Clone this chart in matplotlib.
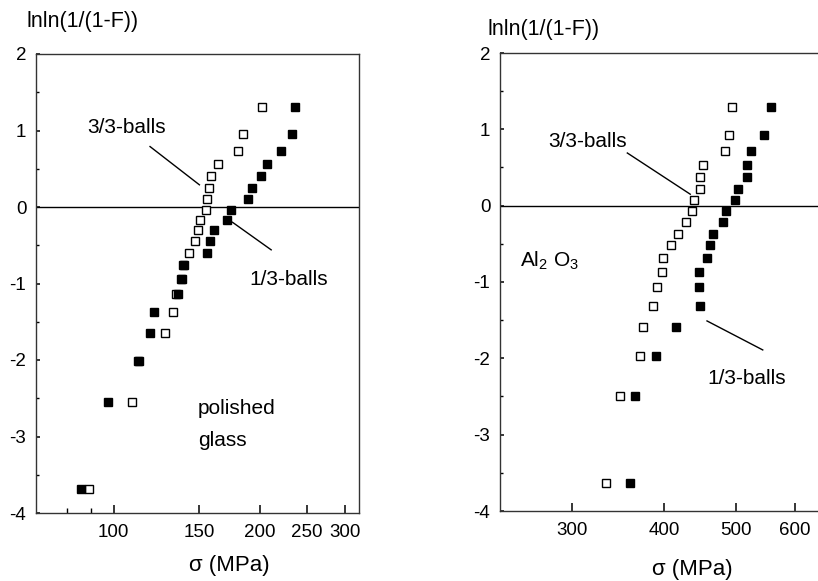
"""Weibull plots of fracture stress for polished glass and Al2O3 balls."""

import matplotlib

matplotlib.use("Agg")

import matplotlib.pyplot as plt
from matplotlib.ticker import FixedFormatter, FixedLocator, NullFormatter

plt.rcParams["font.family"] = ["Liberation Sans", "DejaVu Sans"]
plt.rcParams["mathtext.fontset"] = "custom"
plt.rcParams["mathtext.rm"] = "Liberation Sans"
plt.rcParams["mathtext.it"] = "Liberation Sans"
plt.rcParams["mathtext.default"] = "regular"
plt.rcParams["axes.unicode_minus"] = False

# polished glass (20 specimens each)
glass_rank = [-3.68, -2.55, -2.01, -1.65, -1.37, -1.14, -0.94, -0.76, -0.60, -0.44,
              -0.30, -0.17, -0.04, 0.10, 0.25, 0.41, 0.56, 0.73, 0.95, 1.31]
glass_33 = [89.0, 109.0, 112.3, 127.9, 132.7, 134.4, 138.0, 139.0, 143.1, 147.1,
            149.4, 150.6, 154.9, 155.9, 157.4, 158.7, 164.3, 180.4, 184.6, 202.7]
glass_13 = [85.7, 97.3, 112.7, 118.9, 121.4, 136.0, 138.2, 139.5, 156.1, 158.1,
            160.9, 171.7, 174.9, 189.4, 193.3, 201.7, 207.3, 221.4, 233.7, 236.4]

# Al2O3 (19 specimens each)
alumina_rank = [-3.63, -2.50, -1.97, -1.59, -1.31, -1.07, -0.87, -0.69, -0.52, -0.37,
                -0.21, -0.07, 0.07, 0.22, 0.38, 0.53, 0.72, 0.93, 1.29]
alumina_33 = [333.9, 348.8, 371.2, 374.8, 385.9, 391.3, 397.4, 398.1, 408.3, 417.3,
              427.4, 435.2, 438.0, 446.8, 446.3, 451.0, 482.7, 488.0, 493.2]
alumina_13 = [359.2, 365.7, 389.2, 414.3, 446.3, 445.9, 445.9, 455.8, 460.5, 465.2,
              480.0, 484.1, 497.9, 502.5, 516.6, 516.6, 523.1, 545.2, 556.9]

glass_xticks = [100, 150, 200, 250, 300]
glass_minor = [80, 90]
alumina_xticks = [300, 400, 500, 600]

Y_LABEL = "lnln(1/(1-F))"
X_LABEL = "σ (MPa)"
W, H = 818, 581


def _style_axis(ax, xlim, xticks, minor):
    ax.set_xscale("log")
    ax.set_xlim(*xlim)
    ax.set_ylim(-4, 2)
    ax.xaxis.set_major_locator(FixedLocator(xticks))
    ax.xaxis.set_major_formatter(FixedFormatter([str(t) for t in xticks]))
    ax.xaxis.set_minor_locator(FixedLocator(minor))
    ax.xaxis.set_minor_formatter(NullFormatter())
    ax.set_yticks([-4, -3, -2, -1, 0, 1, 2])
    ax.set_yticks([-3.5, -2.5, -1.5, -0.5, 0.5, 1.5], minor=True)
    ax.tick_params(axis="x", which="major", direction="in", length=6, width=1.1,
                   labelsize=13.5, pad=8)
    ax.tick_params(axis="x", which="minor", direction="in", length=3.5, width=1.0)
    ax.tick_params(axis="y", which="major", direction="in", length=3, width=1.1,
                   labelsize=13.5, pad=7)
    ax.tick_params(axis="y", which="minor", direction="in", length=2, width=1.0)
    ax.axhline(0, color="black", linewidth=1.0, zorder=1)
    for spine in ax.spines.values():
        spine.set_linewidth(1.0)
        spine.set_color("#333333")


def _plot_pairs(ax, x_open, x_filled, ranks):
    ax.plot(x_open, ranks, linestyle="none", marker="s", markersize=6.3,
            markerfacecolor="white", markeredgecolor="black", markeredgewidth=1.0,
            zorder=3)
    ax.plot(x_filled, ranks, linestyle="none", marker="s", markersize=6.3,
            markerfacecolor="black", markeredgecolor="black", zorder=4)


def _label(ax, text, xy_text, line_start, line_end, fontsize=15):
    ax.text(xy_text[0], xy_text[1], text, ha="left", va="center", fontsize=fontsize)
    if line_start is not None:
        ax.plot([line_start[0], line_end[0]], [line_start[1], line_end[1]],
                color="black", linewidth=1.0, zorder=2)


fig = plt.figure(figsize=(W / 100, H / 100), dpi=100)

# left panel: polished glass
ax1 = fig.add_axes([36 / W, 1 - 513 / H, 323 / W, 459 / H])
_style_axis(ax1, (69.2, 320.6), glass_xticks, glass_minor)
_plot_pairs(ax1, glass_33, glass_13, glass_rank)
_label(ax1, "3/3-balls", (88.2, 1.04), (118.9, 0.79), (150.3, 0.29))
_label(ax1, "1/3-balls", (190.3, -0.95), (175.9, -0.20), (211.3, -0.56))
_label(ax1, "polished", (149.4, -2.63), None, None)
_label(ax1, "glass", (149.4, -3.05), None, None)

# right panel: Al2O3
ax2 = fig.add_axes([500 / W, 1 - 511 / H, 321 / W, 458 / H])
_style_axis(ax2, (240.3, 650.0), alumina_xticks, [])
ax2.spines["right"].set_visible(False)
_plot_pairs(ax2, alumina_33, alumina_13, alumina_rank)
_label(ax2, "3/3-balls", (279.0, 0.84), (356.6, 0.69), (433.4, 0.15))
_label(ax2, "1/3-balls", (456.5, -2.26), (456.5, -1.51), (542.6, -1.89))
_label(ax2, r"Al$_2$ O$_3$", (255.7, -0.72), None, None)

# axis titles placed like the original figure
fig.text(26 / W, 1 - 21.5 / H, Y_LABEL, ha="left", va="center", fontsize=15.5)
fig.text(487 / W, 1 - 30 / H, Y_LABEL, ha="left", va="center", fontsize=15.5)
fig.text(229 / W, 1 - 566 / H, X_LABEL, ha="center", va="center", fontsize=16)
fig.text(692.5 / W, 1 - 570 / H, X_LABEL, ha="center", va="center", fontsize=16)

fig.savefig("out.png", dpi=100)
plt.close(fig)
